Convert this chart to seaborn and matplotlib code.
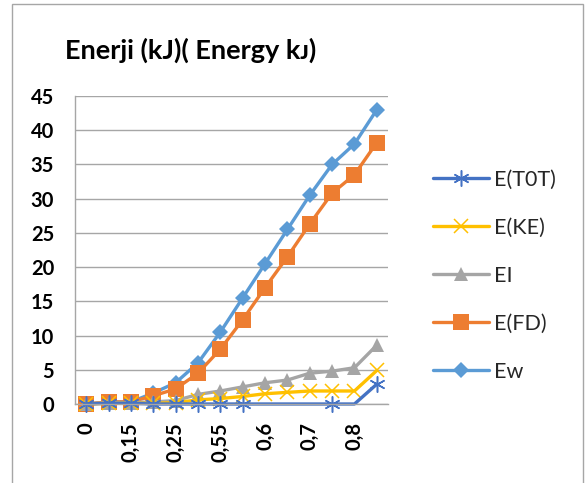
import matplotlib
matplotlib.use("Agg")
import matplotlib.pyplot as plt
import seaborn as sns
import pandas as pd
from matplotlib.patches import Rectangle

# ---- data ----
categories = ['0', '0,1', '0,15', '0,2', '0,25', '0,5', '0,55', '0,58',
              '0,6', '0,65', '0,7', '0,75', '0,8', '0,85']
e_tot = [0, 0.1, 0.1, 0, 0, 0, 0, 0, 0, 0, 0, 0, 0, 2.9]
e_ke = [0, 0.1, 0.1, 0.1, 0.2, 0.6, 0.8, 1.1, 1.5, 1.7, 1.9, 1.9, 1.9, 4.9]
e_i = [0, 0.2, 0.2, 0.3, 0.5, 1.4, 1.9, 2.5, 3.1, 3.5, 4.5, 4.8, 5.3, 8.6]
e_fd = [0, 0.3, 0.3, 1.2, 2.2, 4.5, 8.0, 12.3, 17.0, 21.5, 26.3, 30.8, 33.5, 38.2]
e_w = [0, 0.3, 0.3, 1.6, 3.1, 6.0, 10.5, 15.5, 20.5, 25.5, 30.5, 35.0, 38.0, 43.0]
series_names = ['E(T0T)', 'E(KE)', 'EI', 'E(FD)', 'Ew']
yticks = [0, 5, 10, 15, 20, 25, 30, 35, 40, 45]
title = 'Enerji (kJ)( Energy k\u1D0A)'

sns.set_theme(style="white")
plt.rcParams['font.family'] = ['Lato', 'DejaVu Sans']

fig = plt.figure(figsize=(5.86, 4.83), dpi=100)
ax = fig.add_axes([75 / 586, 1 - 404 / 483, 313 / 586, 308 / 483])

df = pd.DataFrame({'cat': categories, 'E(T0T)': e_tot, 'E(KE)': e_ke,
                   'EI': e_i, 'E(FD)': e_fd, 'Ew': e_w})

colors = {'E(T0T)': '#4472C4', 'E(KE)': '#FFC000', 'EI': '#A5A5A5',
          'E(FD)': '#ED7D31', 'Ew': '#5B9BD5'}
styles = {
    'E(T0T)': dict(marker=(6, 2, 0), markersize=11.5, markeredgewidth=1.1,
                   markevery=[0, 1, 2, 3, 4, 5, 6, 7, 11, 13]),
    'E(KE)': dict(marker='x', markersize=10, markeredgewidth=1.1),
    'EI': dict(marker='^', markersize=10, markeredgewidth=0),
    'E(FD)': dict(marker='s', markersize=11, markeredgewidth=0),
    'Ew': dict(marker='D', markersize=8, markeredgewidth=0),
}

for name in ['Ew', 'E(FD)', 'EI', 'E(KE)', 'E(T0T)']:
    c = colors[name]
    sns.lineplot(data=df, x='cat', y=name, ax=ax, linewidth=2.4, color=c,
                 markeredgecolor=c, markerfacecolor=c,
                 label=name, clip_on=False, sort=False, **styles[name])

h, l = ax.get_legend_handles_labels()
hmap = dict(zip(l, h))
if ax.get_legend():
    ax.get_legend().remove()

ax.set_xlim(-0.5, len(categories) - 0.5)
ax.set_ylim(0, 45)
ax.set_yticks(yticks)
ax.set_yticklabels([str(v) for v in yticks], fontsize=14.5, fontweight='bold')
ax.set_xticks(range(0, len(categories), 2))
ax.set_xticklabels(categories[::2], rotation=90, fontsize=14.5, fontweight='bold')
ax.tick_params(axis='both', length=0, colors='black')
ax.tick_params(axis='y', pad=15)
ax.tick_params(axis='x', pad=13)
ax.set_xlabel('')
ax.set_ylabel('')

ax.yaxis.grid(True, color='#A6A6A6', linewidth=1.0)
ax.xaxis.grid(False)
for side in ['top', 'right']:
    ax.spines[side].set_visible(False)
for side in ['left', 'bottom']:
    ax.spines[side].set_visible(True)
    ax.spines[side].set_color('#A6A6A6')
    ax.spines[side].set_linewidth(1.0)
ax.set_axisbelow(True)

fig.text(191 / 586, 1 - 50 / 483, title, ha='center', va='center',
         fontsize=19.5, fontweight='bold', color='black')

leg = fig.legend([hmap[n] for n in series_names], series_names,
                 loc='center left', bbox_to_anchor=(424 / 586, 1 - 276 / 483),
                 frameon=False, fontsize=15.5, handlelength=2.6,
                 handletextpad=0.25, labelspacing=1.3, borderaxespad=0)

fig.patches.append(Rectangle((12 / 586, -0.05), (583 - 12) / 586, 1.05 - 4 / 483,
                             transform=fig.transFigure, fill=False,
                             edgecolor='#A6A6A6', linewidth=1.0))

fig.savefig('out.png', dpi=100)
